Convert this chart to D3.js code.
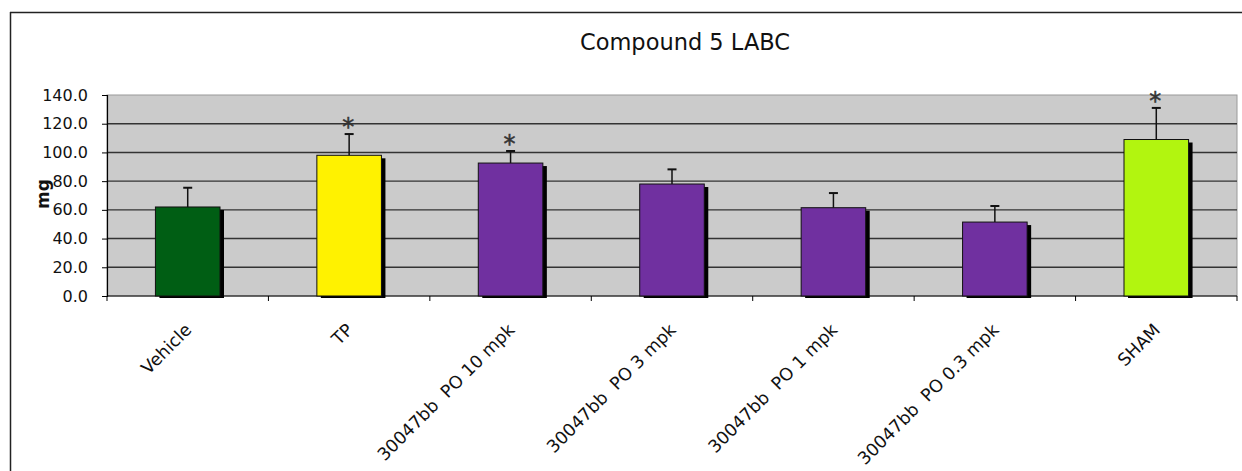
<!DOCTYPE html>
<html><head><meta charset="utf-8">
<script src="https://cdn.jsdelivr.net/npm/d3@7/dist/d3.min.js"></script>
<style>
html,body{margin:0;padding:0;background:#fff;}
svg{display:block;}
text{font-family:"DejaVu Sans",Verdana,sans-serif;}
</style></head>
<body>
<script>
const categories = ["Vehicle","TP","30047bb  PO 10 mpk","30047bb  PO 3 mpk","30047bb  PO 1 mpk","30047bb  PO 0.3 mpk","SHAM"];
const values = [62.0, 98.0, 92.6, 78.0, 61.5, 51.5, 109.0];
const errors = [13.4, 14.8, 8.4, 10.2, 10.2, 11.2, 22.0];
const significant = [false, true, true, false, false, false, true];
const barColors = ["#005e14","#fff200","#7030a0","#7030a0","#7030a0","#7030a0","#b2f50f"];
const yTicks = [0,20,40,60,80,100,120,140];
const title = "Compound 5 LABC";
const yLabel = "mg";

const W = 1242, H = 471;
const plot = {left:107, right:1237, top:95, bottom:296};

const svg = d3.select("body").append("svg").attr("width",W).attr("height",H);

// outer frame (top and left edges visible)
svg.append("line").attr("x1",10).attr("x2",W).attr("y1",12.5).attr("y2",12.5).attr("stroke","#222").attr("stroke-width",1.5);
svg.append("line").attr("x1",10.5).attr("x2",10.5).attr("y1",12).attr("y2",H).attr("stroke","#222").attr("stroke-width",1.5);

const x = d3.scaleBand().domain(categories).range([plot.left, plot.right]).padding(0);
const y = d3.scaleLinear().domain([0,140]).range([plot.bottom, plot.top]);

// plot background
svg.append("rect").attr("x",plot.left).attr("y",plot.top).attr("width",plot.right-plot.left).attr("height",plot.bottom-plot.top)
  .attr("fill","#cbcbcb").attr("stroke","#9a9a9a").attr("stroke-width",1);

// gridlines
svg.append("g").selectAll("line").data(yTicks.filter(d=>d>0 && d<140)).join("line")
  .attr("x1",plot.left).attr("x2",plot.right).attr("y1",d=>y(d)).attr("y2",d=>y(d))
  .attr("stroke","#333").attr("stroke-width",1.4);

// y axis
const yAxis = d3.axisLeft(y).tickValues(yTicks).tickFormat(d3.format(".1f")).tickSize(5).tickPadding(14);
const gy = svg.append("g").attr("transform",`translate(${plot.left},0)`).call(yAxis);
gy.select(".domain").attr("stroke","#000").attr("stroke-width",1.2);
gy.selectAll(".tick line").attr("stroke","#000");
gy.selectAll(".tick text").attr("font-size",16).attr("fill","#111").style("font-family","DejaVu Sans");

// x axis line and boundary ticks
const xg = svg.append("g");
xg.append("line").attr("x1",plot.left).attr("x2",plot.right).attr("y1",plot.bottom).attr("y2",plot.bottom).attr("stroke","#000").attr("stroke-width",1.2);
const bounds = categories.map(c=>x(c)).concat([x(categories[categories.length-1])+x.bandwidth()]);
xg.selectAll("line.tk").data(bounds).join("line").attr("class","tk")
  .attr("x1",d=>d).attr("x2",d=>d).attr("y1",plot.bottom).attr("y2",plot.bottom+5).attr("stroke","#000");

// x labels
xg.selectAll("text.xl").data(categories).join("text").attr("class","xl")
  .attr("transform",c=>`translate(${x(c)+x.bandwidth()/2+5},${plot.bottom+35}) rotate(-45)`)
  .attr("text-anchor","end").attr("font-size",17.5).attr("fill","#111").style("white-space","pre")
  .text(c=>c);

const bw = x.bandwidth()*0.4;
const bx = c => x(c) + (x.bandwidth()-bw)/2;

const data = categories.map((c,i)=>({c, v:values[i], e:errors[i], s:significant[i], col:barColors[i]}));

// shadows
svg.append("g").selectAll("rect").data(data).join("rect")
  .attr("x",d=>bx(d.c)+4).attr("y",d=>y(d.v)+3).attr("width",bw).attr("height",d=>plot.bottom-y(d.v)-1)
  .attr("fill","#000");
// bars
svg.append("g").selectAll("rect").data(data).join("rect")
  .attr("x",d=>bx(d.c)).attr("y",d=>y(d.v)).attr("width",bw).attr("height",d=>plot.bottom-y(d.v))
  .attr("fill",d=>d.col).attr("stroke","#111").attr("stroke-width",1);

// error bars
const eg = svg.append("g").attr("stroke","#111").attr("stroke-width",1.5);
eg.selectAll("line.v").data(data).join("line").attr("class","v")
  .attr("x1",d=>x(d.c)+x.bandwidth()/2).attr("x2",d=>x(d.c)+x.bandwidth()/2)
  .attr("y1",d=>y(d.v)).attr("y2",d=>y(d.v+d.e));
eg.selectAll("line.cap").data(data).join("line").attr("class","cap")
  .attr("x1",d=>x(d.c)+x.bandwidth()/2-4.5).attr("x2",d=>x(d.c)+x.bandwidth()/2+4.5)
  .attr("y1",d=>y(d.v+d.e)).attr("y2",d=>y(d.v+d.e)).attr("stroke-width",2);

// significance asterisks
svg.append("g").selectAll("text").data(data.filter(d=>d.s)).join("text")
  .attr("x",d=>x(d.c)+x.bandwidth()/2-1).attr("y",d=>y(d.v+d.e)+1)
  .attr("text-anchor","middle").attr("font-size",24).attr("fill","#333")
  .attr("stroke","#333").attr("stroke-width",0.5).text("*");

// title
svg.append("text").attr("x",685).attr("y",50).attr("text-anchor","middle").attr("font-size",22.5).attr("fill","#111").text(title);

// y label
svg.append("text").attr("transform",`translate(49,194) rotate(-90)`).attr("text-anchor","middle")
  .attr("font-size",17).attr("font-weight","bold").attr("fill","#111").text(yLabel);
</script>
</body></html>
